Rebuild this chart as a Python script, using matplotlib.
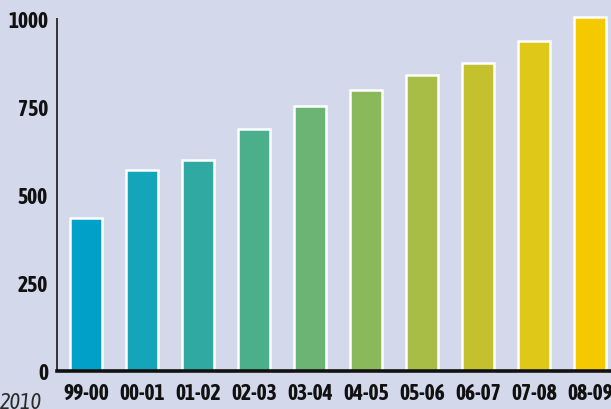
import matplotlib
matplotlib.use("Agg")
import matplotlib.pyplot as plt
from matplotlib import font_manager

seasons = ["99-00", "00-01", "01-02", "02-03", "03-04", "04-05", "05-06", "06-07", "07-08", "08-09"]
values = [435, 571, 599, 687, 753, 798, 841, 875, 937, 1006]
bar_colors = ["#00a0c8", "#14a5ba", "#2fa9a2", "#4caf8c", "#6cb473", "#8ab95c",
              "#a8bd46", "#c4c12e", "#e0c819", "#f5c900"]
y_ticks = [0, 250, 500, 750, 1000]

names = {f.name for f in font_manager.fontManager.ttflist}
FONT = ["Asap Condensed", "DejaVu Sans"] if "Asap Condensed" in names else ["DejaVu Sans"]

BG = "#d3d9eb"
fig = plt.figure(figsize=(6.11, 4.10), dpi=100, facecolor=BG)
ax = fig.add_axes([57 / 611, 38 / 410, 1 - 57 / 611, 352 / 410])
ax.set_facecolor(BG)

x = list(range(len(seasons)))
ax.bar(x, values, width=0.57, color=bar_colors, edgecolor="white", linewidth=1.8,
       clip_on=False, zorder=2)

ax.set_xlim(-0.518, 9.375)
ax.set_ylim(0, 1000)
ax.set_yticks(y_ticks)
ax.set_yticklabels([str(v) for v in y_ticks])
ax.set_xticks(x)
ax.set_xticklabels(seasons)
ax.tick_params(length=0)
ax.tick_params(axis="y", pad=6.5)
ax.tick_params(axis="x", pad=8)
for lab in ax.get_xticklabels() + ax.get_yticklabels():
    lab.set_fontfamily(FONT)
    lab.set_fontweight("bold")
    lab.set_fontsize(15.5)
    lab.set_color("#111111")

for s in ["top", "right"]:
    ax.spines[s].set_visible(False)
ax.spines["left"].set_color("#333333")
ax.spines["left"].set_linewidth(1.4)
ax.spines["bottom"].set_color("#111111")
ax.spines["bottom"].set_linewidth(2.6)
ax.spines["bottom"].set_zorder(3)

fig.text(42 / 611, -0.01, "2010", ha="right", va="bottom", fontsize=16,
         style="italic", color="#2a2a2a", family=FONT)

fig.savefig("out.png", dpi=100, facecolor=BG)
